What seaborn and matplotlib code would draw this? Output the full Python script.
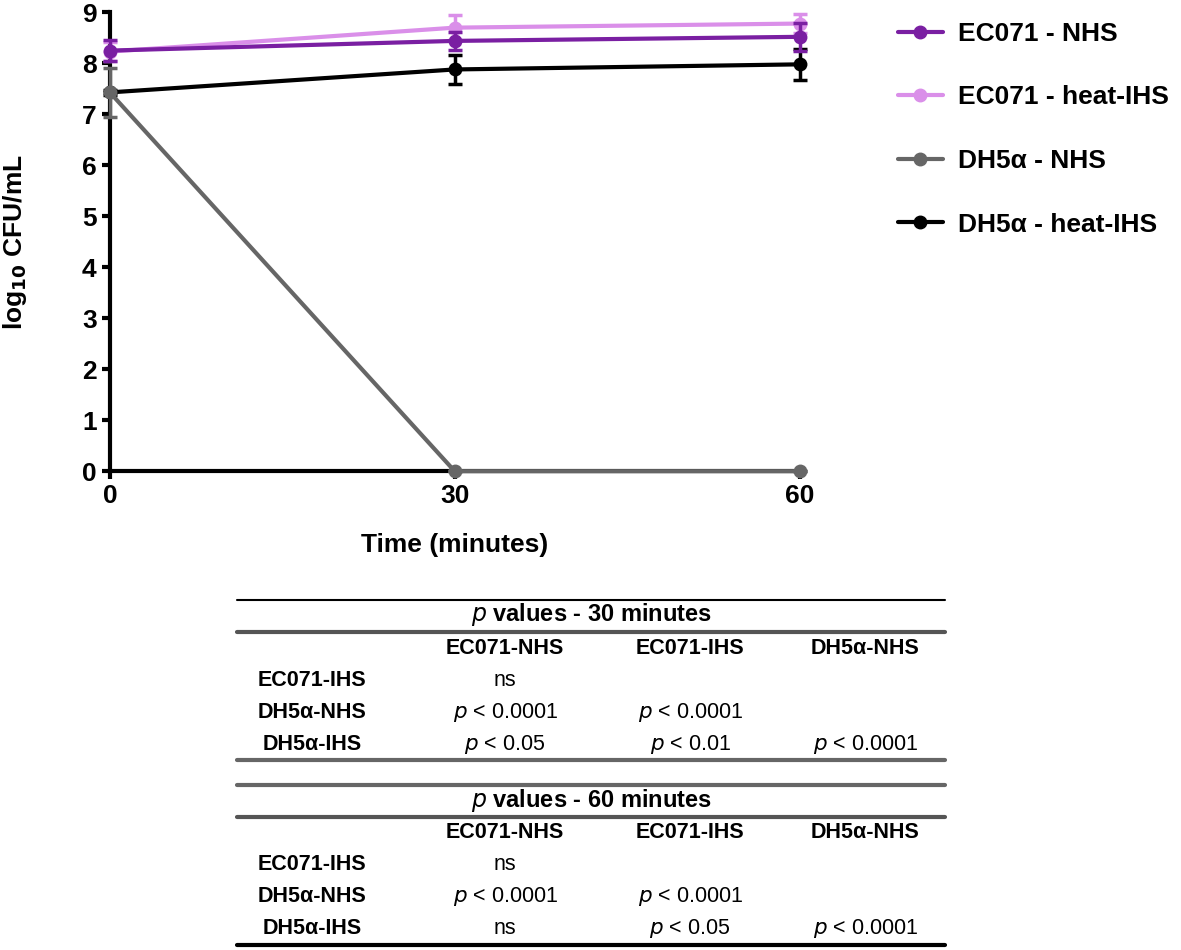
import numpy as np
import pandas as pd
import matplotlib
matplotlib.use("Agg")
import matplotlib.pyplot as plt
import seaborn as sns
from matplotlib.lines import Line2D

# ------------------------------------------------------------
# Dados
# ------------------------------------------------------------
tempo = [0, 30, 60]
grupos = ["EC071 - NHS", "EC071 - heat-IHS", "DH5\u03b1 - NHS", "DH5\u03b1 - heat-IHS"]
ec071_nhs = [8.25, 8.44, 8.52]
ec071_ihs = [8.23, 8.70, 8.78]
dh5a_nhs = [7.43, 0.0, 0.0]
dh5a_ihs = [7.43, 7.88, 7.98]
erro_ec071_nhs = [0.20, 0.18, 0.27]
erro_ec071_ihs = [0.18, 0.24, 0.19]
erro_dh5a_nhs = [0.48, 0.0, 0.0]
erro_dh5a_ihs = [0.05, 0.28, 0.31]
cores = ["#7a1fa2", "#da8fe9", "#666666", "#000000"]
ordem_z = [5, 4, 6, 3]  # roxo escuro sobre o claro, cinza sobre o preto

# tabela de p values
colunas_tab = ["EC071-NHS", "EC071-IHS", "DH5\u03b1-NHS"]
linhas_tab = ["EC071-IHS", "DH5\u03b1-NHS", "DH5\u03b1-IHS"]
p_30 = [["ns", "", ""],
        ["p < 0.0001", "p < 0.0001", ""],
        ["p < 0.05", "p < 0.01", "p < 0.0001"]]
p_60 = [["ns", "", ""],
        ["p < 0.0001", "p < 0.0001", ""],
        ["ns", "p < 0.05", "p < 0.0001"]]

medias = [ec071_nhs, ec071_ihs, dh5a_nhs, dh5a_ihs]
erros = [erro_ec071_nhs, erro_ec071_ihs, erro_dh5a_nhs, erro_dh5a_ihs]

df = pd.DataFrame({
    "tempo": tempo * 4,
    "cfu": sum(medias, []),
    "erro": sum(erros, []),
    "grupo": np.repeat(grupos, 3),
})

# ------------------------------------------------------------
# Figura
# ------------------------------------------------------------
sns.set_style("ticks", {"axes.edgecolor": "black", "xtick.color": "black",
                        "ytick.color": "black", "text.color": "black",
                        "axes.labelcolor": "black"})
plt.rcParams["font.family"] = ["Liberation Sans", "DejaVu Sans"]

fig = plt.figure(figsize=(11.81, 9.5), dpi=100)
ax = fig.add_axes([0.093, 0.504, 0.584, 0.483])

for g, c, z in zip(grupos, cores, ordem_z):
    sub = df[df["grupo"] == g]
    sns.lineplot(data=sub, x="tempo", y="cfu", color=c, marker="o",
                 markersize=10, markeredgewidth=0, linewidth=3, errorbar=None,
                 ax=ax, clip_on=False, zorder=z)
    ax.errorbar(sub["tempo"], sub["cfu"], yerr=sub["erro"], fmt="none",
                ecolor=c, elinewidth=2.5, capsize=5, capthick=2.5,
                clip_on=False, zorder=z)

ax.set_xlim(0, 60)
ax.set_ylim(0, 9)
ax.set_xticks([0, 30, 60])
ax.set_yticks(range(0, 10))
sns.despine(ax=ax)
for s in ["left", "bottom"]:
    ax.spines[s].set_linewidth(3)
    ax.spines[s].set_zorder(2)
ax.tick_params(width=3, length=6, labelsize=19, colors="black")
for lab in ax.get_xticklabels() + ax.get_yticklabels():
    lab.set_fontweight("bold")
ax.set_xlabel("Time (minutes)", fontsize=19, fontweight="bold", labelpad=18)
ax.set_ylabel("log$_{\\mathbf{10}}$ CFU/mL", fontsize=19, fontweight="bold", labelpad=38)

handles = [Line2D([], [], color=c, marker="o", markersize=9, linewidth=3) for c in cores]
fig.legend(handles, grupos, loc="upper left", bbox_to_anchor=(0.74, 1.002),
           frameon=False, handlelength=1.7, handletextpad=0.6, labelspacing=1.5,
           prop={"weight": "bold", "size": 19})

# ------------------------------------------------------------
# Tabelas de p values
# ------------------------------------------------------------
W, H = 1181, 950
x0, x1 = 237, 945
col_x = [312, 505, 690, 865]


def fy(py):
    return 1 - py / H


def linha(py, cor, lw):
    fig.add_artist(Line2D([x0 / W, x1 / W], [fy(py), fy(py)], color=cor, lw=lw))


def tabela(topo, titulo, valores, primeira, ultima):
    linha(topo, *primeira)
    fig.text((x0 + x1) / 2 / W, fy(topo + 15), "$\\it{p}$ values - " + titulo,
             ha="center", va="center", fontsize=17, fontweight="bold")
    linha(topo + 32, "#555555", 3)
    for j, c in enumerate(colunas_tab):
        fig.text(col_x[j + 1] / W, fy(topo + 48), c, ha="center", va="center",
                 fontsize=15.5, fontweight="bold")
    for i, r in enumerate(linhas_tab):
        py = topo + 80 + i * 32
        fig.text(col_x[0] / W, fy(py), r, ha="center", va="center",
                 fontsize=15.5, fontweight="bold")
        for j, v in enumerate(valores[i]):
            if v.startswith("p"):
                v = "$\\it{p}$" + v[1:]
            fig.text(col_x[j + 1] / W, fy(py), v, ha="center", va="center", fontsize=15.5)
    linha(topo + 160, *ultima)


tabela(600, "30 minutes", p_30, ("#000000", 1.5), ("#666666", 3))
tabela(785, "60 minutes", p_60, ("#666666", 3), ("#000000", 3))

plt.savefig("out.png", dpi=100)
